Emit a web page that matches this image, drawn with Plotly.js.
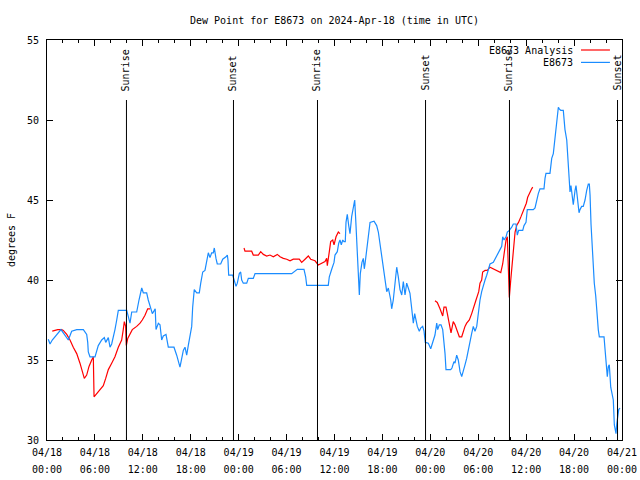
<!DOCTYPE html>
<html>
<head>
<meta charset="utf-8">
<script src="https://cdn.plot.ly/plotly-3.0.1.min.js"></script>
<style>html,body{margin:0;padding:0;background:#fff;}#chart{width:640px;height:480px;}</style>
</head>
<body>
<div id="chart"></div>
<script>
// Hours since 2024-04-18 00:00 UTC
var blueHours = [
0.16,0.38,0.66,1.21,1.75,2.04,2.67,3.09,3.72,4.55,
4.97,5.10,5.17,5.38,6.01,6.42,6.85,7.18,7.35,7.68,
7.89,8.10,8.30,8.51,8.73,8.93,9.98,10.18,10.39,10.61,
11.23,11.52,11.86,12.06,12.48,12.68,13.02,13.19,13.44,13.55,
13.65,13.94,14.15,14.36,14.56,14.90,15.19,15.90,16.24,16.44,
16.65,16.87,17.07,17.28,17.49,17.69,17.91,18.12,18.24,18.44,
18.75,19.07,19.25,19.50,19.78,20.00,20.20,20.41,20.62,20.82,
20.95,21.16,21.32,21.75,22.00,22.41,22.58,22.66,22.75,23.25,
23.42,23.67,23.83,24.08,24.25,24.38,24.58,25.01,25.21,25.83,
26.05,27.92,30.64,31.34,32.18,32.39,32.52,35.22,35.35,35.65,
35.94,36.06,36.35,36.53,36.69,36.85,37.03,37.19,37.35,37.44,
37.60,37.78,37.94,38.15,38.35,38.53,38.66,38.78,38.98,39.11,
39.23,39.44,39.61,39.73,39.82,40.03,40.23,40.45,40.95,41.28,
41.49,41.70,41.91,42.11,42.32,42.54,42.74,42.86,43.04,43.16,
43.36,43.58,43.79,43.99,44.20,44.42,44.62,44.83,45.04,45.24,
45.45,45.67,45.87,46.04,46.21,46.37,46.62,46.79,47.04,47.21,
47.37,47.75,48.05,48.30,48.58,48.80,48.92,49.12,49.34,49.55,
49.71,49.84,49.96,50.55,50.71,50.96,51.09,51.30,51.50,51.72,
51.93,52.13,52.34,52.55,52.76,52.97,53.18,53.38,53.59,53.81,
54.01,54.22,54.43,54.63,54.85,55.06,55.47,55.89,56.22,56.51,
56.72,56.94,57.06,57.23,57.48,57.64,57.89,58.19,58.39,58.73,
58.89,59.06,59.57,59.73,59.98,60.14,60.89,61.11,61.32,61.52,
61.73,62.23,62.36,62.48,62.98,63.07,63.20,63.40,63.52,63.70,
63.82,64.03,64.15,64.33,64.65,64.74,64.86,65.08,65.24,65.33,
65.49,65.61,65.74,65.90,66.12,66.24,66.40,66.62,66.74,66.95,
67.15,67.37,67.58,67.78,67.91,68.00,68.12,68.28,68.41,68.53,
68.71,68.83,69.03,69.16,69.75,69.87,70.00,70.16,70.29,70.41,
70.59,70.75,70.91,71.04,71.13,71.25,71.34,71.46,71.59,71.75
];
var blueDew = [
36.3,36.0,36.25,36.6,36.9,36.7,36.25,36.8,36.9,36.9,
36.6,36.1,35.5,35.2,35.2,35.9,36.25,36.4,36.1,36.4,
35.8,36.0,36.56,36.9,37.5,38.1,38.1,37.6,37.3,38.0,
38.0,38.75,39.5,39.2,39.2,38.75,38.2,37.9,38.1,38.2,
36.9,37.3,37.2,36.25,36.5,36.6,35.8,35.8,35.3,34.9,
34.55,35.1,35.6,35.8,35.3,35.9,36.45,37.1,38.3,39.4,
39.2,39.2,39.8,40.5,40.6,41.25,41.7,41.4,41.7,41.7,
42.0,41.35,41.0,41.0,41.3,41.45,41.56,41.25,40.3,40.3,
40.0,39.6,39.8,40.4,40.5,40.0,39.8,39.8,40.1,40.1,
40.4,40.4,40.4,40.67,40.67,40.2,39.67,39.67,40.2,40.67,
41.1,41.56,41.77,42.3,42.5,42.2,42.5,42.4,42.4,43.6,
44.1,43.4,42.9,43.96,44.6,45.0,43.75,42.5,40.5,39.06,
40.4,41.1,41.35,40.7,41.0,41.8,42.9,43.6,43.67,43.4,
43.0,42.3,41.35,40.7,40.2,39.27,39.5,39.2,38.75,38.2,
38.75,39.8,40.8,40.2,39.4,39.06,39.9,39.06,39.8,39.5,
39.17,38.2,37.3,37.9,37.5,37.1,36.8,37.0,37.1,36.8,
36.1,36.05,35.7,36.15,36.56,37.3,36.9,37.2,37.2,36.9,
36.25,35.4,34.4,34.4,34.5,34.9,34.8,35.3,35.0,34.27,
33.96,34.27,34.7,35.1,35.7,36.25,36.67,37.1,36.8,37.1,
38.1,38.75,39.27,39.7,40.0,40.3,41.0,41.1,41.45,41.67,
41.9,42.1,42.7,42.5,42.7,43.0,43.1,43.3,43.5,43.5,
42.8,43.1,43.1,43.4,43.6,44.4,44.4,44.5,45.0,45.4,
45.7,45.7,46.35,46.67,46.67,47.2,47.6,47.9,48.5,49.06,
50.0,50.8,50.7,50.6,50.6,50.0,49.4,48.75,47.5,46.1,
45.5,45.9,45.1,44.7,45.6,45.9,45.2,44.2,44.4,44.6,
44.6,45.0,45.6,46.0,46.0,45.3,43.5,42.1,40.8,39.8,
39.0,38.1,36.9,36.45,36.45,35.7,35.1,33.96,34.6,34.7,
33.3,32.9,32.5,30.94,30.6,30.4,31.0,31.35,31.9,32.0
];
var redHours = [
0.66,1.34,1.84,2.04,2.47,2.88,3.29,3.72,4.13,4.42,
4.67,4.97,5.26,5.60,5.80,5.89,6.22,6.64,7.05,7.35,
7.68,8.10,8.51,8.93,9.35,9.55,9.68,9.85,9.93,10.11,
10.39,10.68,11.23,11.65,11.93,12.27,12.61,12.90,null,24.67,
24.79,25.63,25.83,26.46,26.76,27.09,27.51,27.92,28.34,28.84,
29.18,29.59,30.02,30.43,30.84,31.59,31.89,32.31,32.72,33.02,
33.56,33.97,34.40,34.81,35.02,35.10,35.35,35.52,35.78,35.94,
36.19,36.48,36.69,null,48.58,48.87,49.21,49.55,49.71,49.96,
50.13,50.38,50.59,50.87,51.09,51.38,51.63,51.93,52.13,52.34,
52.55,52.88,53.18,53.47,53.72,54.06,54.22,54.43,54.55,54.85,
55.13,55.47,55.89,56.31,56.82,57.06,57.23,57.48,57.64,57.77,
57.89,58.07,58.19,58.39,58.61,58.84,59.04,59.35,59.60,59.77,
60.02,60.19,60.44,60.69,60.82
];
var redDew = [
36.8,36.9,36.9,36.85,36.6,36.25,35.8,35.4,34.8,34.2,
33.85,34.06,34.6,35.0,35.2,32.7,32.9,33.2,33.4,33.85,
34.4,34.8,35.2,35.8,36.25,36.9,37.4,37.1,35.9,36.35,
36.67,36.9,37.1,37.3,37.5,37.8,38.2,38.2,null,42.0,
41.8,41.8,41.56,41.56,41.77,41.6,41.5,41.56,41.45,41.6,
41.45,41.35,41.3,41.2,41.3,41.3,41.1,41.3,41.5,41.3,
41.2,40.94,41.04,41.15,41.35,40.9,41.77,42.4,42.5,42.2,
42.7,43.0,42.9,null,38.7,38.6,38.2,37.75,38.3,38.3,
37.9,37.3,36.7,37.4,37.2,36.8,36.45,36.45,36.8,37.1,
37.3,37.5,37.9,38.3,38.75,39.27,39.8,40.0,40.5,40.6,
40.6,40.8,40.7,40.6,40.46,41.0,41.77,42.5,42.7,39.9,
38.9,40.0,40.8,42.1,43.0,43.44,43.6,43.96,44.3,44.5,
44.8,45.17,45.5,45.7,45.8
];
var eventHours = [9.95, 23.35, 33.87, 47.40, 57.91, 71.44];
var eventLabels = ["Sunrise", "Sunset", "Sunrise", "Sunset", "Sunrise", "Sunset"];
var tickHours = [0, 6, 12, 18, 24, 30, 36, 42, 48, 54, 60, 66, 72];
var tickDates = ["04/18","04/18","04/18","04/18","04/19","04/19","04/19","04/19",
  "04/20","04/20","04/20","04/20","04/21"];
var tickTimes = ["00:00","06:00","12:00","18:00","00:00","06:00","12:00","18:00",
  "00:00","06:00","12:00","18:00","00:00"];
var seriesNames = ["E8673 Analysis", "E8673"];
var seriesColors = ["#ff0000", "#1a8cff"];

var FONT = "DejaVu Sans Mono, monospace";
var TF = {family: FONT, size: 10, color: "#000"};

var traces = [
  {x: redHours, y: redDew, type: "scatter", mode: "lines", name: seriesNames[0],
   line: {color: seriesColors[0], width: 1.2}, connectgaps: false, showlegend: false},
  {x: blueHours, y: blueDew, type: "scatter", mode: "lines", name: seriesNames[1],
   line: {color: seriesColors[1], width: 1.2}, showlegend: false},
  {x: [], y: [], xaxis: "x2", yaxis: "y", type: "scatter", mode: "lines", showlegend: false}
];

var shapes = [];
var annotations = [];
eventHours.forEach(function(h, i) {
  shapes.push({type: "line", xref: "x", yref: "paper", x0: h, x1: h, y0: 0, y1: 0.85,
    line: {color: "#000", width: 1}});
  annotations.push({x: h, xref: "x", y: 0.8675, yref: "paper", text: eventLabels[i],
    textangle: -90, showarrow: false, xanchor: "center", yanchor: "bottom", font: TF});
});
// gnuplot-style legend (text, then line sample)
var legY = [0.975, 0.944];
seriesNames.forEach(function(n, i) {
  annotations.push({x: 0.918, xref: "paper", y: legY[i], yref: "paper", text: n,
    showarrow: false, xanchor: "right", yanchor: "middle", font: TF});
  shapes.push({type: "line", xref: "paper", yref: "paper", x0: 0.9287, x1: 0.979,
    y0: legY[i], y1: legY[i], line: {color: seriesColors[i], width: 1.2}});
});

var layout = {
  width: 640, height: 480,
  margin: {l: 47, r: 18, t: 40, b: 40},
  paper_bgcolor: "#fff", plot_bgcolor: "#fff",
  font: TF,
  title: {text: "Dew Point for E8673 on 2024-Apr-18 (time in UTC)", x: 0.5, xref: "paper",
    y: 0.958, yref: "container", yanchor: "middle", font: TF},
  xaxis: {range: [0, 72], tickvals: tickHours, ticktext: tickDates, ticks: "inside",
    ticklen: 6, tickcolor: "#000", showline: true, linecolor: "#000", linewidth: 1,
    mirror: "ticks", showgrid: false, zeroline: false, ticklabelstandoff: 3,
    minor: {dtick: 2, tick0: 0, ticks: "inside", ticklen: 3, tickcolor: "#000", showgrid: false},
    tickfont: TF},
  xaxis2: {range: [0, 72], overlaying: "x", anchor: "y", side: "bottom",
    tickvals: tickHours, ticktext: tickTimes, ticks: "", showline: false, showgrid: false,
    zeroline: false, ticklabelstandoff: 22, tickfont: TF},
  yaxis: {range: [30, 55], dtick: 5, tick0: 30, ticks: "inside", ticklen: 6, tickcolor: "#000",
    showline: true, linecolor: "#000", linewidth: 1, mirror: "ticks", showgrid: false,
    zeroline: false, tickfont: TF, ticklabelstandoff: 5,
    title: {text: "degrees F", standoff: 9, font: TF}},
  shapes: shapes,
  annotations: annotations,
  showlegend: false
};

Plotly.newPlot("chart", traces, layout, {staticPlot: true, displayModeBar: false});
</script>
</body>
</html>
